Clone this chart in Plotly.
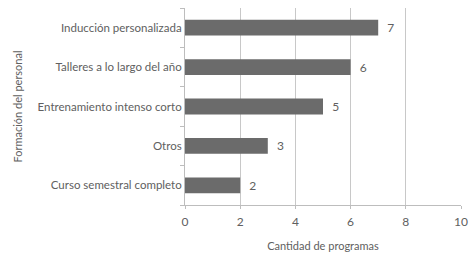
import plotly.graph_objects as go

categories = ["Curso semestral completo", "Otros", "Entrenamiento intenso corto",
              "Talleres a lo largo del año", "Inducción personalizada"]
values = [2, 3, 5, 6, 7]
x_ticks = [0, 2, 4, 6, 8, 10]

font_family = "Lato, Open Sans, sans-serif"
text_color = "#606060"

fig = go.Figure(go.Bar(
    x=values, y=categories, orientation="h",
    marker=dict(color="#6b6b6b", line=dict(width=0)),
    texttemplate="  %{x}", textposition="outside",
    textfont=dict(family=font_family, size=12, color=text_color),
    cliponaxis=False,
))

fig.update_layout(
    width=470, height=255,
    margin=dict(l=185, r=9, t=8, b=50),
    paper_bgcolor="white", plot_bgcolor="white",
    bargap=0.6,
    showlegend=False,
    font=dict(family=font_family, size=11, color=text_color),
)
fig.update_xaxes(
    range=[0, 10], tickvals=x_ticks, ticktext=[str(t) for t in x_ticks],
    showgrid=True, gridcolor="#c8c8c8", gridwidth=1,
    showline=True, linecolor="#bdbdbd", linewidth=1,
    ticks="outside", ticklen=3, tickcolor="#bdbdbd",
    zeroline=False, automargin=False, ticklabelstandoff=3,
    tickfont=dict(size=12, color=text_color),
    title=dict(text="Cantidad de programas", font=dict(size=11, color=text_color), standoff=13),
)
fig.update_yaxes(
    showline=True, linecolor="#bdbdbd", linewidth=1,
    ticks="outside", ticklen=4, tickcolor="#bdbdbd", tickson="boundaries",
    showgrid=False, automargin=False,
    tickfont=dict(size=11.5, color=text_color),
    title=dict(text="Formación del personal", font=dict(size=11, color=text_color), standoff=12),
)

fig.write_html(
    "out.html",
    config={"displayModeBar": False},
    post_script="document.body.style.margin='0';document.body.style.overflow='hidden';",
)
